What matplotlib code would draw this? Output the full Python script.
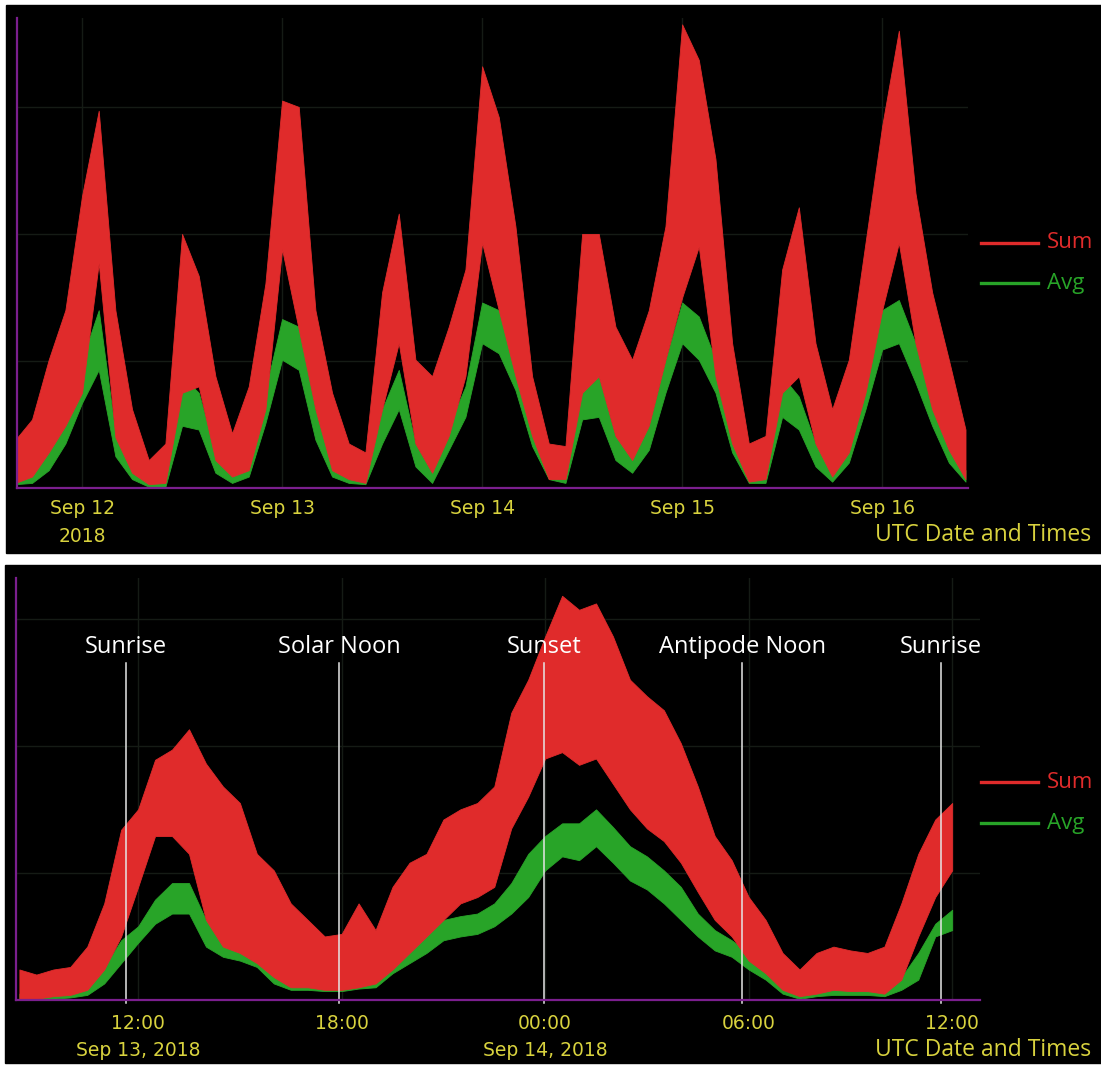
import matplotlib
matplotlib.use("Agg")
import matplotlib.pyplot as plt
import numpy as np
from matplotlib.lines import Line2D
from matplotlib.patches import Rectangle

# ---- top panel: hours after Sep 12 2018 00:00 UTC, one reading every 2 h ----
week_hours = np.arange(-8, 107, 2)
week_sum_hi = [38, 54, 101, 140, 230, 297, 140, 62, 22, 35,
               200, 167, 88, 43, 80, 161, 305, 300, 140, 75,
               35, 28, 154, 216, 101, 88, 127, 172, 332, 292,
               206, 88, 35, 33, 200, 200, 127, 101, 140, 206,
               365, 337, 259, 114, 35, 41, 172, 221, 114, 62,
               101, 193, 285, 360, 232, 154, 101, 46]
week_sum_lo = [4, 9, 28, 49, 75, 177, 40, 12, 3, 4,
               75, 80, 22, 9, 14, 62, 188, 125, 62, 14,
               7, 4, 62, 114, 35, 12, 41, 88, 193, 140,
               88, 41, 7, 7, 75, 88, 41, 22, 49, 101,
               150, 190, 88, 35, 5, 7, 75, 88, 35, 9,
               28, 75, 140, 193, 114, 62, 30, 7]
week_avg_hi = [12, 17, 35, 56, 101, 140, 43, 17, 9, 7,
               88, 75, 28, 12, 28, 77, 133, 127, 62, 20,
               9, 7, 62, 93, 35, 12, 49, 80, 146, 140,
               104, 54, 14, 9, 88, 88, 41, 28, 49, 101,
               146, 135, 101, 46, 14, 12, 88, 72, 35, 14,
               35, 88, 140, 148, 114, 75, 35, 14]
week_avg_lo = [3, 4, 14, 35, 67, 93, 25, 7, 1, 1,
               49, 46, 12, 4, 9, 51, 101, 93, 38, 9,
               4, 3, 35, 62, 17, 4, 30, 56, 114, 106,
               77, 33, 7, 4, 54, 56, 22, 12, 30, 75,
               114, 101, 75, 28, 4, 4, 56, 46, 17, 5,
               20, 62, 109, 114, 83, 49, 20, 5]
week_ticks = [0, 24, 48, 72, 96]
week_labels = ["Sep 12\n2018", "Sep 13", "Sep 14", "Sep 15", "Sep 16"]

# ---- bottom panel: hours after Sep 13 2018 00:00 UTC, one reading every 30 min ----
day_hours = np.arange(8.5, 36.01, 0.5)
day_sum_hi = [24, 20, 24, 26, 42, 76, 134, 150, 189, 197,
              213, 186, 168, 155, 115, 102, 76, 63, 50, 52,
              76, 55, 89, 108, 115, 142, 150, 155, 168, 226,
              252, 286, 318, 307, 312, 286, 252, 239, 228, 202,
              168, 129, 110, 81, 63, 37, 24, 37, 42, 39,
              37, 42, 76, 115, 142, 155]
day_sum_lo = [1, 1, 3, 4, 8, 24, 50, 89, 129, 129,
              115, 63, 42, 37, 29, 18, 10, 10, 8, 8,
              10, 13, 24, 37, 50, 63, 76, 81, 89, 135,
              160, 190, 195, 185, 190, 170, 150, 135, 125, 108,
              85, 63, 50, 31, 21, 8, 3, 5, 8, 7,
              7, 5, 16, 50, 81, 102]
day_avg_hi = [5, 4, 5, 7, 10, 26, 47, 58, 79, 92,
              92, 63, 50, 50, 45, 29, 18, 24, 21, 18,
              24, 26, 37, 45, 55, 63, 66, 68, 76, 92,
              115, 129, 139, 139, 150, 136, 121, 113, 102, 89,
              68, 55, 47, 37, 26, 13, 7, 9, 12, 10,
              10, 10, 18, 37, 60, 71]
day_avg_lo = [1, 1, 1, 2, 4, 13, 29, 45, 60, 68,
              68, 42, 34, 31, 26, 13, 8, 8, 7, 7,
              9, 10, 21, 29, 37, 47, 50, 52, 58, 68,
              81, 102, 113, 110, 121, 108, 94, 87, 76, 63,
              50, 39, 34, 24, 16, 5, 1, 3, 4, 4,
              4, 3, 8, 16, 50, 55]
day_ticks = [12, 18, 24, 30, 36]
day_labels = ["12:00\nSep 13, 2018", "18:00", "00:00\nSep 14, 2018", "06:00", "12:00"]

event_hours = [11.65, 17.93, 23.97, 29.81, 35.67]
event_names = ["Sunrise", "Solar Noon", "Sunset", "Antipode Noon", "Sunrise"]

RED = "#e02b2b"
GREEN = "#28a428"
YELLOW = "#d8d23e"
PURPLE = "#7b1f8e"
GRID = "#151b15"

W, H = 1101, 1066


def fx(px):
    return px / W


def fy(py):
    return 1 - py / H


fig = plt.figure(figsize=(W / 100, H / 100), dpi=100, facecolor="white")

# black panels behind each chart
fig.add_artist(Rectangle((fx(6), fy(553)), fx(1101) - fx(6), (553 - 5) / H,
                         transform=fig.transFigure, color="black", zorder=0))
fig.add_artist(Rectangle((fx(5), fy(1063)), fx(1101) - fx(5), (1063 - 565) / H,
                         transform=fig.transFigure, color="black", zorder=0))


def style_axes(ax, ticks, labels, xlim, ylim, pad, spacing):
    ax.set_facecolor("black")
    ax.set_xlim(*xlim)
    ax.set_ylim(*ylim)
    for side in ("top", "right"):
        ax.spines[side].set_visible(False)
    for side in ("left", "bottom"):
        ax.spines[side].set_color(PURPLE)
        ax.spines[side].set_linewidth(1.6)
        ax.spines[side].set_zorder(6)
    ax.set_yticks([100, 200, 300])
    ax.set_xticks(ticks, labels)
    ax.tick_params(axis="y", length=0, labelleft=False)
    ax.tick_params(axis="x", length=0, pad=pad, labelsize=13.5, labelcolor=YELLOW)
    for lab in ax.get_xticklabels():
        lab.set_linespacing(spacing)
    ax.grid(color=GRID, lw=1)
    ax.set_axisbelow(True)


ax1 = fig.add_axes([fx(16.7), fy(488), (968 - 16.7) / W, (488 - 18) / H])
ax1.fill_between(week_hours, week_avg_lo, week_avg_hi, color=GREEN, lw=0.6, zorder=2)
ax1.fill_between(week_hours, week_sum_lo, week_sum_hi, color=RED, lw=0.6, zorder=3)
style_axes(ax1, week_ticks, week_labels, (-7.84, 106.3), (0, 370), 8, 1.6)

ax2 = fig.add_axes([fx(16), fy(1000), (980 - 16) / W, (1000 - 578) / H])
ax2.fill_between(day_hours, day_avg_lo, day_avg_hi, color=GREEN, lw=0.6, zorder=2)
ax2.fill_between(day_hours, day_sum_lo, day_sum_hi, color=RED, lw=0.6, zorder=3)
style_axes(ax2, day_ticks, day_labels, (8.40, 36.82), (0, 332), 10, 1.55)

for hour, name in zip(event_hours, event_names):
    ax2.plot([hour, hour], [-2, 265], color="#e6e6e6", lw=1.1, zorder=5, clip_on=False)
    ax2.text(hour, 278, name, ha="center", va="center", color="white",
             fontsize=17, family="Open Sans", zorder=6)

# legends and axis captions
for y_sum, y_avg, y_cap in ((243, 283, 535), (782, 823, 1050)):
    for yy, col, name in ((y_sum, RED, "Sum"), (y_avg, GREEN, "Avg")):
        fig.add_artist(Line2D([fx(981), fx(1038)], [fy(yy), fy(yy)], color=col, lw=2.4))
        fig.text(fx(1047), fy(yy), name, color=col, fontsize=16, family="Open Sans",
                 ha="left", va="center")
    fig.text(fx(1091), fy(y_cap), "UTC Date and Times", color=YELLOW, fontsize=16.5,
             family="Open Sans", ha="right", va="center")

fig.savefig("out.png", dpi=100, facecolor="white")
